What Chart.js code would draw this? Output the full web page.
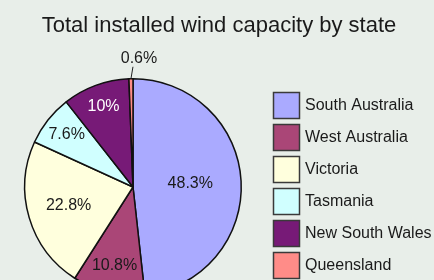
<!DOCTYPE html>
<html>
<head>
<meta charset="utf-8">
<script src="https://cdn.jsdelivr.net/npm/chart.js@4"></script>
<style>
  html, body { margin: 0; padding: 0; background: #e8eee9; overflow: hidden; }
  #wrap { position: absolute; left: 0; top: 0; width: 434px; height: 300px; }
</style>
</head>
<body>
<div id="wrap"><canvas id="c" width="434" height="300"></canvas></div>
<script>
// ---- data ----
const chartTitle = 'Total installed wind capacity by state';
const states = ['South Australia', 'West Australia', 'Victoria', 'Tasmania', 'New South Wales', 'Queensland'];
const shares = [48.3, 10.8, 22.8, 7.6, 10, 0.6];

// ---- style ----
const sliceColors = ['#aaaaff', '#aa4677', '#ffffdd', '#d0ffff', '#771a77', '#ff8c88'];
const labelColors = ['#1a1a1a', '#1a1a1a', '#1a1a1a', '#1a1a1a', '#ffffff', '#1a1a1a'];
const labelRadius = [0.53, 0.75, 0.62, 0.78, 0.79, null];
const FONT = '"Liberation Sans", Arial, Helvetica, sans-serif';

const decor = {
  id: 'decor',
  afterDatasetsDraw(chart) {
    const ctx = chart.ctx;
    const meta = chart.getDatasetMeta(0);
    ctx.save();
    // title
    ctx.fillStyle = '#1a1a1a';
    ctx.font = '22px ' + FONT;
    ctx.textAlign = 'center';
    ctx.textBaseline = 'alphabetic';
    ctx.fillText(chartTitle, 219, 32);
    // slice labels
    ctx.font = '16px ' + FONT;
    ctx.textBaseline = 'middle';
    meta.data.forEach((arc, i) => {
      const p = arc.getProps(['x', 'y', 'startAngle', 'endAngle', 'outerRadius'], true);
      const mid = (p.startAngle + p.endAngle) / 2;
      const txt = shares[i] + '%';
      if (labelRadius[i] !== null) {
        const r = p.outerRadius * labelRadius[i];
        ctx.fillStyle = labelColors[i];
        ctx.fillText(txt, p.x + Math.cos(mid) * r, p.y + Math.sin(mid) * r);
      } else {
        const ex = p.x + Math.cos(mid) * p.outerRadius;
        const ey = p.y + Math.sin(mid) * p.outerRadius;
        ctx.strokeStyle = '#222';
        ctx.lineWidth = 1;
        ctx.beginPath();
        ctx.moveTo(ex, ey);
        ctx.lineTo(ex + 2, ey - 12);
        ctx.stroke();
        ctx.fillStyle = labelColors[i];
        ctx.fillText(txt, ex + 8, ey - 20);
      }
    });
    // legend
    ctx.textAlign = 'left';
    states.forEach((s, i) => {
      const y = 92.5 + 32 * i;
      ctx.fillStyle = sliceColors[i];
      ctx.fillRect(273.5, y, 26, 26);
      ctx.strokeStyle = '#3a3a3a';
      ctx.lineWidth = 1.5;
      ctx.strokeRect(273.5, y, 26, 26);
      ctx.fillStyle = '#1a1a1a';
      ctx.fillText(s, 305, y + 13);
    });
    ctx.restore();
  }
};

new Chart(document.getElementById('c'), {
  type: 'pie',
  data: {
    labels: states,
    datasets: [{
      data: shares,
      backgroundColor: sliceColors,
      borderColor: '#111111',
      borderWidth: 1.5
    }]
  },
  options: {
    responsive: false,
    animation: false,
    devicePixelRatio: 1,
    layout: { padding: { left: 24, right: 192, top: 78, bottom: 4 } },
    plugins: {
      legend: { display: false },
      title: { display: false },
      tooltip: { enabled: false }
    }
  },
  plugins: [decor]
});
</script>
</body>
</html>
